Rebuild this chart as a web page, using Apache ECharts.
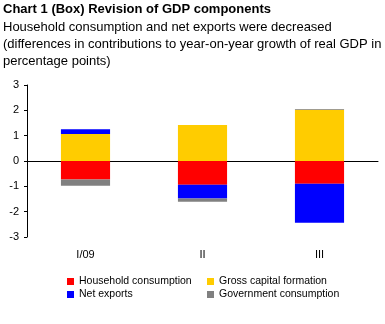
<!DOCTYPE html>
<html><head><meta charset="utf-8">
<script src="https://cdn.jsdelivr.net/npm/echarts@6/dist/echarts.min.js"></script>
<style>html,body{margin:0;padding:0;background:#fff}#c{width:385px;height:324px}</style>
</head><body><div id="c"></div>
<script>
const categories = ['I/09', 'II', 'III'];
const household = [-0.73, -0.94, -0.90];
const grossCapital = [1.07, 1.42, 2.02];
const netExports = [0.18, -0.54, -1.54];
const government = [-0.25, -0.13, 0.03];
const yTicks = [-3, -2, -1, 0, 1, 2, 3];

const F = '"Liberation Sans", Arial, sans-serif';
const chart = echarts.init(document.getElementById('c'), null, {renderer: 'canvas'});
function s(name, data, color) {
  return {name, type: 'bar', stack: 'a', data, barWidth: '42%',
    itemStyle: {color}, emphasis: {disabled: true}};
}
const legendBase = {orient: 'vertical', itemWidth: 7, itemHeight: 7, itemGap: 0, padding: 0,
  icon: 'rect', textStyle: {fontSize: 10.5, color: '#000', fontFamily: F, lineHeight: 13}};
chart.setOption({
  animation: false,
  textStyle: {fontFamily: F},
  graphic: [
    {type: 'text', left: 3, top: 3, style: {text: 'Chart 1 (Box) Revision of GDP components', font: 'bold 13px ' + F, fill: '#000'}},
    {type: 'text', left: 3, top: 19, style: {text: 'Household consumption and net exports were decreased\n(differences in contributions to year-on-year growth of real GDP in\npercentage points)', font: '13px ' + F, fill: '#000', lineHeight: 17}}
  ],
  grid: {left: 27, right: 7, top: 85, bottom: 87},
  xAxis: {type: 'category', data: categories,
    axisLine: {onZero: true, lineStyle: {color: '#000', width: 1}},
    axisTick: {show: false},
    axisLabel: {color: '#000', fontSize: 11, fontFamily: F, margin: 12},
    position: 'bottom'
  },
  yAxis: {type: 'value', min: yTicks[0], max: yTicks[yTicks.length - 1], interval: 1,
    axisLine: {show: true, lineStyle: {color: '#000'}},
    axisTick: {show: true, length: 3, lineStyle: {color: '#000'}},
    axisLabel: {color: '#000', fontSize: 11, fontFamily: F, margin: 8},
    splitLine: {show: false}
  },
  legend: [
    Object.assign({left: 67, top: 275, data: ['Household consumption', 'Net exports']}, legendBase),
    Object.assign({left: 207, top: 275, data: ['Gross capital formation', 'Government consumption']}, legendBase)
  ],
  series: [
    s('Household consumption', household, '#ff0000'),
    s('Gross capital formation', grossCapital, '#ffcc00'),
    s('Net exports', netExports, '#0000ff'),
    s('Government consumption', government, '#808080')
  ]
});
</script></body></html>
